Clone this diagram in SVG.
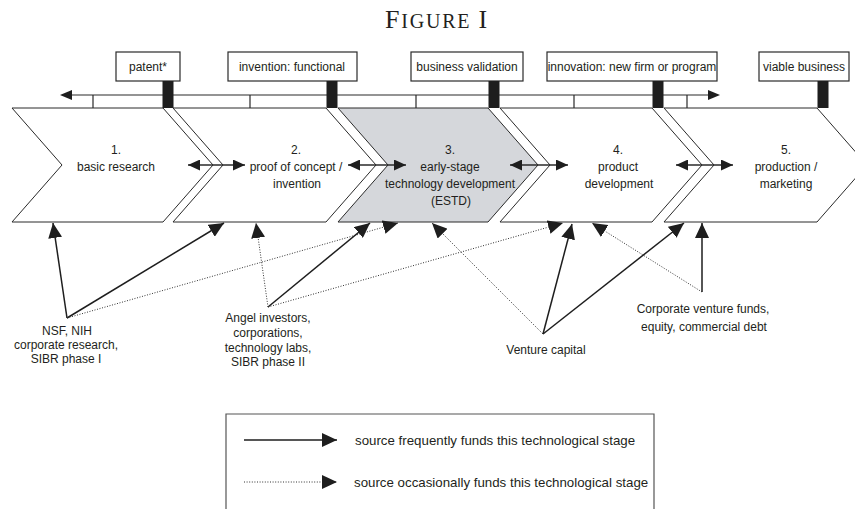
<svg xmlns="http://www.w3.org/2000/svg" width="855" height="509" viewBox="0 0 855 509">
<style>
text{font-family:"Liberation Sans",Arial,sans-serif;fill:#231f20;font-size:12px}
.c{text-anchor:middle}
.lg{font-size:13.3px}
.chev{stroke:#2a2a2a;stroke-width:1;fill:#fff}
.box{stroke:#2a2a2a;stroke-width:1.2;fill:#fff}
.bar{fill:#1e1e1e}
.tl{stroke:#2a2a2a;stroke-width:1.2;fill:none}
.solid{stroke:#1e1e1e;stroke-width:1.5;fill:none;marker-end:url(#ah)}
.dot{stroke:#333;stroke-width:1;stroke-dasharray:1 1.6;fill:none;marker-end:url(#ah)}
.dbl{stroke:#2a2a2a;stroke-width:1.3;fill:none;marker-start:url(#sh);marker-end:url(#sh)}
</style>
<defs>
<marker id="ah" viewBox="0 0 15 14" refX="15" refY="7" markerWidth="15" markerHeight="14" orient="auto" markerUnits="userSpaceOnUse"><path d="M0,0 L15,7 L0,14 Z" fill="#1e1e1e"/></marker>
<marker id="sh" viewBox="0 0 12 11" refX="12" refY="5.5" markerWidth="12" markerHeight="11" orient="auto-start-reverse" markerUnits="userSpaceOnUse"><path d="M0,0 L12,5.5 L0,11 Z" fill="#1e1e1e"/></marker>
</defs>
<rect width="855" height="509" fill="#fff"/>
<text x="385" y="28" style="font-family:'Liberation Serif',serif;font-size:26px;letter-spacing:1.8px">F<tspan style="font-size:20px">IGURE</tspan><tspan dx="7">I</tspan></text>

<g id="timeline">
<line class="tl" x1="72" y1="95" x2="708" y2="95"/>
<path d="M60,95 L72,90 L72,100 Z" fill="#1e1e1e"/>
<path d="M720,95 L708,90 L708,100 Z" fill="#1e1e1e"/>
<path class="tl" d="M93,95V108 M250,95V108 M416,95V108 M574,95V108 M687,95V108"/>
</g>

<g id="stage1"><path class="chev" d="M12,108 L163,108 L213,165 L163,222 L12,222 L62,165 Z"/>
<text class="c" x="116" y="154">1.</text><text class="c" x="116" y="171">basic research</text></g>
<g id="stage2"><path class="chev" d="M173,108 L326,108 L376,165 L326,222 L173,222 L223,165 Z"/>
<text class="c" x="296" y="154">2.</text><text class="c" x="296" y="171">proof of concept /</text><text class="c" x="297" y="188">invention</text></g>
<g id="stage3"><path class="chev" style="fill:#d5d7db" d="M338,108 L488,108 L538,165 L488,222 L338,222 L388,165 Z"/>
<text class="c" x="450" y="154">3.</text><text class="c" x="450" y="171">early-stage</text><text class="c" x="450" y="188">technology development</text><text class="c" x="451" y="205">(ESTD)</text></g>
<g id="stage4"><path class="chev" d="M500,108 L652,108 L702,165 L652,222 L500,222 L550,165 Z"/>
<text class="c" x="618" y="154">4.</text><text class="c" x="618" y="171">product</text><text class="c" x="619" y="188">development</text></g>
<g id="stage5"><path class="chev" d="M664,108 L817,108 L867,165 L817,222 L664,222 L714,165 Z"/>
<text class="c" x="786" y="154">5.</text><text class="c" x="786" y="171">production /</text><text class="c" x="786" y="188">marketing</text></g>

<g id="m-patent"><rect class="box" x="116" y="52" width="64" height="29"/><rect class="bar" x="162.5" y="81" width="11" height="27"/><text class="c" x="148" y="71">patent*</text></g>
<g id="m-invention"><rect class="box" x="228" y="52" width="129" height="29"/><rect class="bar" x="326.5" y="81" width="11" height="27"/><text class="c" x="292" y="71">invention: functional</text></g>
<g id="m-validation"><rect class="box" x="411" y="52" width="112" height="29"/><rect class="bar" x="488.5" y="81" width="11" height="27"/><text class="c" x="467" y="71">business validation</text></g>
<g id="m-innovation"><rect class="box" x="547" y="52" width="170" height="29"/><rect class="bar" x="652.5" y="81" width="11" height="27"/><text class="c" x="632" y="71">innovation: new firm or program</text></g>
<g id="m-viable"><rect class="box" x="759" y="52" width="90" height="29"/><rect class="bar" x="817.5" y="81" width="11" height="27"/><text class="c" x="804" y="71">viable business</text></g>

<g id="src-nsf"><text class="c" x="67" y="335">NSF, NIH</text><text class="c" x="66" y="349">corporate research,</text><text class="c" x="66" y="363">SIBR phase I</text></g>
<g id="src-angel"><text class="c" x="268" y="322">Angel investors,</text><text class="c" x="268" y="337">corporations,</text><text class="c" x="268" y="352">technology labs,</text><text class="c" x="268" y="366">SIBR phase II</text></g>
<g id="src-vc"><text class="c" x="546" y="354">Venture capital</text></g>
<g id="src-corp"><text class="c" x="703" y="313">Corporate venture funds,</text><text class="c" x="704" y="331">equity, commercial debt</text></g>

<g id="connectors">
<line class="dbl" x1="188" y1="165" x2="245" y2="165"/>
<line class="dbl" x1="348" y1="165" x2="406" y2="165"/>
<line class="dbl" x1="510" y1="165" x2="568" y2="165"/>
<line class="dbl" x1="676" y1="165" x2="733" y2="165"/>
<line class="solid" x1="67" y1="318" x2="53" y2="223"/>
<line class="solid" x1="67" y1="318" x2="224" y2="223"/>
<line class="dot" x1="67" y1="318" x2="398" y2="223"/>
<line class="dot" x1="268" y1="307" x2="256" y2="223"/>
<line class="solid" x1="268" y1="307" x2="370" y2="223"/>
<line class="dot" x1="268" y1="307" x2="563" y2="223"/>
<line class="dot" x1="543" y1="334" x2="432" y2="223"/>
<line class="solid" x1="543" y1="334" x2="572" y2="224"/>
<line class="solid" x1="543" y1="334" x2="684" y2="223"/>
<line class="solid" x1="702" y1="292" x2="702" y2="223"/>
<line class="dot" x1="702" y1="292" x2="592" y2="223"/>
</g>

<g id="legend">
<path d="M226,512 V414 H654 V512" fill="none" stroke="#555" stroke-width="1.2"/>
<line class="solid" x1="244" y1="440" x2="337" y2="440"/>
<text class="lg" x="355" y="445">source frequently funds this technological stage</text>
<line class="dot" x1="244" y1="482" x2="337" y2="482"/>
<text class="lg" x="354" y="487">source occasionally funds this technological stage</text>
</g>
</svg>
